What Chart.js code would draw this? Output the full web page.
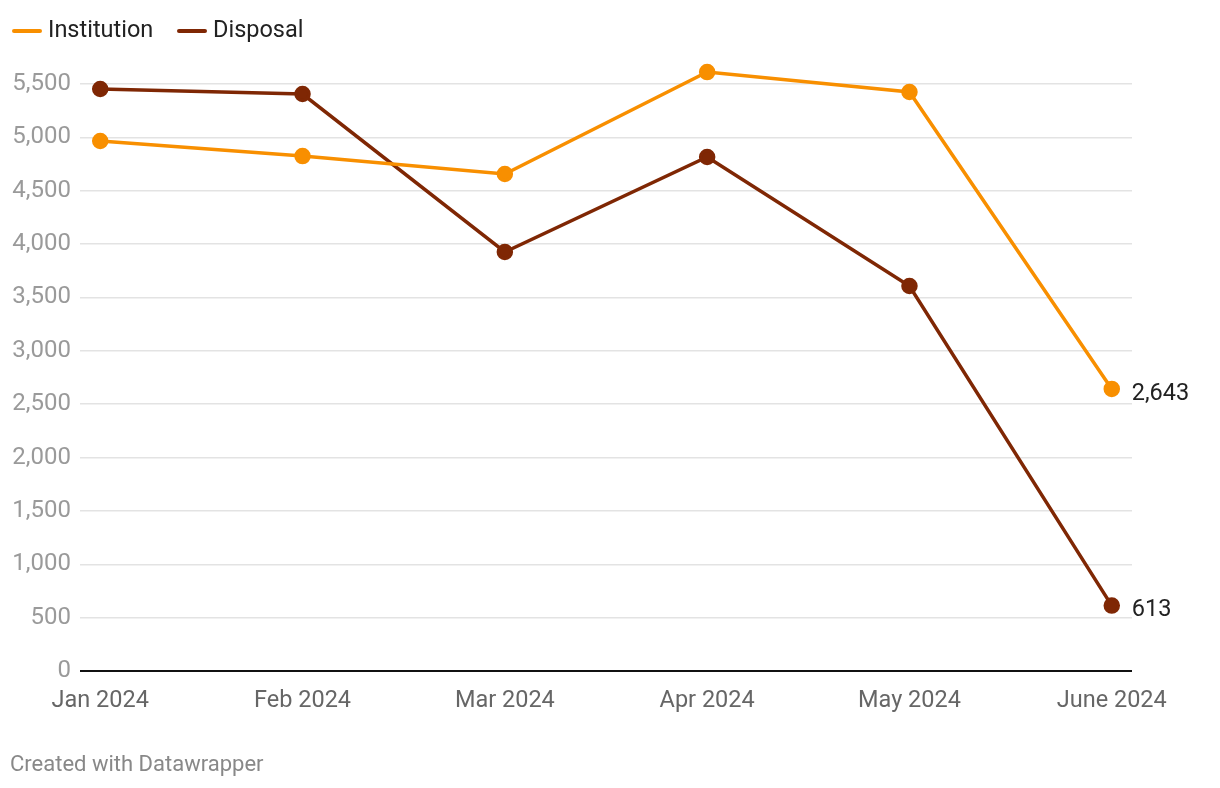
<!DOCTYPE html>
<html>
<head>
<meta charset="utf-8">
<script src="https://cdn.jsdelivr.net/npm/chart.js@4"></script>
<style>
  html, body { margin: 0; padding: 0; background: #fff; }
  #wrap { position: relative; width: 1220px; height: 788px; }
</style>
</head>
<body>
<div id="wrap"><canvas id="lineChart" width="1220" height="788"></canvas></div>
<script>
// ---------------- DATA ----------------
const months = ["Jan 2024", "Feb 2024", "Mar 2024", "Apr 2024", "May 2024", "June 2024"];
const institution = [4966, 4825, 4657, 5612, 5425, 2643];
const disposal = [5453, 5406, 3926, 4816, 3607, 613];
const yTicks = [0, 500, 1000, 1500, 2000, 2500, 3000, 3500, 4000, 4500, 5000, 5500];

const ORANGE = "#f88f00";
const BROWN = "#7f2704";

// ---------------- EXTRAS: legend, end labels, footer ----------------
const extras = {
    id: "extras",
    afterDraw(chart) {
        const ctx = chart.ctx;
        ctx.save();

        // legend
        const items = [["Institution", ORANGE, 12], ["Disposal", BROWN, 177]];
        ctx.font = "23.5px Roboto";
        ctx.textBaseline = "middle";
        ctx.lineCap = "round";
        items.forEach(([label, color, x]) => {
            ctx.strokeStyle = color;
            ctx.lineWidth = 4;
            ctx.beginPath();
            ctx.moveTo(x + 2, 31);
            ctx.lineTo(x + 28, 31);
            ctx.stroke();
            ctx.fillStyle = "#222";
            ctx.textAlign = "left";
            ctx.fillText(label, x + 36, 31);
        });

        // end labels
        ctx.font = "23.5px Roboto";
        ctx.fillStyle = "#222";
        chart.data.datasets.forEach((ds, i) => {
            const pt = chart.getDatasetMeta(i).data[ds.data.length - 1];
            const v = ds.data[ds.data.length - 1].y;
            ctx.fillText(v.toLocaleString("en-US"), pt.x + 20, pt.y + 5);
        });

        // footer
        ctx.font = "22px Roboto";
        ctx.fillStyle = "#888";
        ctx.fillText("Created with Datawrapper", 10, 765);
        ctx.restore();
    }
};

const toPoints = arr => arr.map((v, i) => ({ x: i, y: v }));

new Chart(document.getElementById("lineChart"), {
    type: "line",
    data: {
        datasets: [
            {
                label: "Institution",
                data: toPoints(institution),
                borderColor: ORANGE,
                backgroundColor: ORANGE,
                borderWidth: 3.5,
                pointRadius: 6.5,
                pointHoverRadius: 6.5,
                clip: false
            },
            {
                label: "Disposal",
                data: toPoints(disposal),
                borderColor: BROWN,
                backgroundColor: BROWN,
                borderWidth: 3.5,
                pointRadius: 6.5,
                pointHoverRadius: 6.5,
                clip: false
            }
        ]
    },
    options: {
        responsive: false,
        animation: false,
        layout: { padding: { top: 68, right: 88, left: 0, bottom: 0 } },
        plugins: {
            legend: { display: false },
            tooltip: { enabled: false }
        },
        scales: {
            x: {
                type: "linear",
                min: -0.1,
                max: 5.1,
                afterBuildTicks: axis => { axis.ticks = months.map((m, i) => ({ value: i })); },
                afterFit: axis => { axis.height = 117; },
                grid: { display: false },
                border: { display: false },
                ticks: {
                    padding: 8,
                    maxRotation: 0,
                    autoSkip: false,
                    color: "#666",
                    font: { family: "Roboto", size: 23.5 },
                    callback: v => months[v]
                }
            },
            y: {
                min: 0,
                max: 5650,
                afterBuildTicks: axis => { axis.ticks = yTicks.map(v => ({ value: v })); },
                afterFit: axis => { axis.width = 80; },
                border: { display: false },
                grid: {
                    drawTicks: false,
                    color: c => c.tick.value === 0 ? "#111" : "#e3e3e3",
                    lineWidth: c => c.tick.value === 0 ? 2 : 1.5
                },
                ticks: {
                    padding: 9,
                    color: "#9a9a9a",
                    font: { family: "Roboto", size: 24 },
                    callback: v => v.toLocaleString("en-US")
                }
            }
        }
    },
    plugins: [extras]
});
</script>
</body>
</html>
